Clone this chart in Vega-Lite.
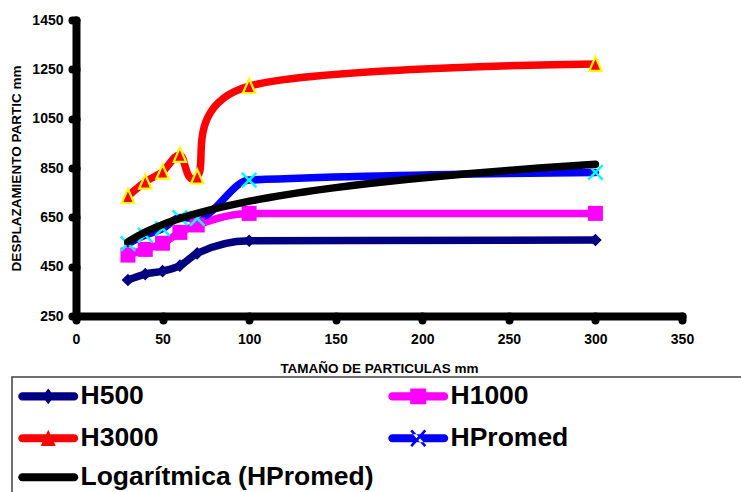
{
  "$schema": "https://vega.github.io/schema/vega-lite/v6.json",
  "width": 606,
  "height": 296,
  "autosize": {"type": "none"},
  "padding": {"left": 76, "top": 20, "right": 59, "bottom": 176},
  "background": "white",
  "config": {
    "view": {"stroke": null},
    "font": "Liberation Sans",
    "axis": {
      "domainColor": "black", "domainWidth": 8, "domainCap": "round",
      "tickColor": "black", "tickWidth": 8, "tickCap": "round", "tickSize": 4,
      "labelFont": "Liberation Sans", "labelFontSize": 14, "labelFontWeight": "bold", "labelColor": "black",
      "titleFont": "Liberation Sans", "titleFontSize": 13.5, "titleFontWeight": "bold", "titleColor": "black",
      "grid": false, "labelFlush": false, "labelOverlap": false
    }
  },
  "data": {
    "values": [
      {"series": "H500", "x": 30, "y": 396},
      {"series": "H500", "x": 40, "y": 420},
      {"series": "H500", "x": 50, "y": 432},
      {"series": "H500", "x": 60, "y": 454},
      {"series": "H500", "x": 70, "y": 504},
      {"series": "H500", "x": 100, "y": 555},
      {"series": "H500", "x": 300, "y": 558},
      {"series": "H1000", "x": 30, "y": 497},
      {"series": "H1000", "x": 40, "y": 520},
      {"series": "H1000", "x": 50, "y": 545},
      {"series": "H1000", "x": 60, "y": 589},
      {"series": "H1000", "x": 70, "y": 619},
      {"series": "H1000", "x": 100, "y": 666},
      {"series": "H1000", "x": 300, "y": 666},
      {"series": "H3000", "x": 30, "y": 736},
      {"series": "H3000", "x": 40, "y": 794},
      {"series": "H3000", "x": 50, "y": 835},
      {"series": "H3000", "x": 60, "y": 903},
      {"series": "H3000", "x": 70, "y": 815},
      {"series": "H3000", "x": 100, "y": 1182},
      {"series": "H3000", "x": 300, "y": 1272},
      {"series": "HPromed", "x": 30, "y": 543},
      {"series": "HPromed", "x": 40, "y": 578},
      {"series": "HPromed", "x": 50, "y": 604},
      {"series": "HPromed", "x": 60, "y": 649},
      {"series": "HPromed", "x": 70, "y": 646},
      {"series": "HPromed", "x": 100, "y": 801},
      {"series": "HPromed", "x": 300, "y": 832}
    ]
  },
  "encoding": {
    "x": {
      "field": "x", "type": "quantitative",
      "scale": {"domain": [0, 350], "nice": false, "zero": false},
      "axis": {
        "values": [0, 50, 100, 150, 200, 250, 300, 350],
        "format": "d",
        "title": "TAMAÑO DE PARTICULAS mm",
        "titleFont": "Liberation Sans", "titleFontSize": 13.5, "titleFontWeight": "bold", "titleColor": "black",
        "titleY": 56, "titleBaseline": "alphabetic",
        "labelFont": "Liberation Sans", "labelFontSize": 14, "labelFontWeight": "bold", "labelColor": "black",
        "labelPadding": 12, "labelFlush": false, "labelOverlap": false,
        "tickSize": 4, "tickWidth": 8, "tickCap": "round", "tickColor": "black",
        "domainColor": "black", "domainWidth": 8, "domainCap": "round", "grid": false,
        "encode": {
          "domain": {"update": {"strokeWidth": {"value": 8}, "strokeCap": {"value": "round"}, "stroke": {"value": "#000000"}}},
          "ticks": {"update": {"strokeWidth": {"value": 8}, "strokeCap": {"value": "round"}, "stroke": {"value": "#000000"}}}
        }
      }
    },
    "y": {
      "field": "y", "type": "quantitative",
      "scale": {"domain": [250, 1450], "nice": false, "zero": false},
      "axis": {
        "values": [250, 450, 650, 850, 1050, 1250, 1450],
        "format": "d",
        "title": "DESPLAZAMIENTO PARTIC mm",
        "titleFont": "Liberation Sans", "titleFontSize": 13.5, "titleFontWeight": "bold", "titleColor": "black",
        "titleX": -56, "titleBaseline": "alphabetic",
        "labelFont": "Liberation Sans", "labelFontSize": 14, "labelFontWeight": "bold", "labelColor": "black",
        "labelPadding": 9, "labelFlush": false, "labelOverlap": false,
        "tickSize": 4, "tickWidth": 8, "tickCap": "round", "tickColor": "black",
        "domainColor": "black", "domainWidth": 8, "domainCap": "round", "grid": false,
        "encode": {
          "domain": {"update": {"strokeWidth": {"value": 8}, "strokeCap": {"value": "round"}, "stroke": {"value": "#000000"}}},
          "ticks": {"update": {"strokeWidth": {"value": 8}, "strokeCap": {"value": "round"}, "stroke": {"value": "#000000"}}}
        }
      }
    }
  },
  "layer": [
    {
      "transform": [{"filter": {"field": "series", "oneOf": ["H500", "H1000", "HPromed"]}}],
      "mark": {"type": "line", "interpolate": "monotone", "strokeWidth": 7.5, "strokeCap": "round", "strokeJoin": "round"},
      "encoding": {
        "color": {
          "field": "series", "type": "nominal",
          "scale": {"domain": ["H500", "H1000", "H3000", "HPromed"], "range": ["#000080", "#FF00FF", "#FF0000", "#0000FF"]},
          "legend": {
            "orient": "none", "legendX": -64, "legendY": 357,
            "direction": "horizontal", "columns": 2, "columnPadding": 229, "rowPadding": 15,
            "title": null, "padding": 6,
            "labelFont": "Liberation Sans", "labelFontSize": 26.5, "labelFontWeight": "bold", "labelColor": "black",
            "labelOffset": 36, "labelLimit": 500,
            "symbolSize": 676, "symbolStrokeWidth": 0,
            "strokeColor": "#404040",
            "encode": {
              "legend": {"update": {"strokeWidth": {"value": 1.5}}},
              "symbols": {
                "update": {
                  "shape": {"signal": "datum.value === 'H500' ? 'M-0.692,-0.308L3.308,-0.308A0.308,0.308,0,0,1,3.308,0.308L-0.692,0.308A0.308,0.308,0,0,1,-0.692,-0.308ZM1.308,-0.615L1.769,0L1.308,0.615L0.846,0Z' : datum.value === 'H1000' ? 'M-0.692,-0.308L3.308,-0.308A0.308,0.308,0,0,1,3.308,0.308L-0.692,0.308A0.308,0.308,0,0,1,-0.692,-0.308ZM0.692,-0.615L1.923,-0.615L1.923,0.615L0.692,0.615Z' : datum.value === 'H3000' ? 'M-0.692,-0.308L3.308,-0.308A0.308,0.308,0,0,1,3.308,0.308L-0.692,0.308A0.308,0.308,0,0,1,-0.692,-0.308ZM1.308,-0.65L1.885,0.6L0.731,0.6ZM0,7' : 'M-0.692,-0.308L3.308,-0.308A0.308,0.308,0,0,1,3.308,0.308L-0.692,0.308A0.308,0.308,0,0,1,-0.692,-0.308ZM0.694,-0.533L1.774,0.667L1.922,0.533L0.842,-0.667ZM1.922,-0.533L0.842,0.667L0.694,0.533L1.774,-0.667ZM30,7'"},
                  "fill": {"signal": "datum.value === 'H500' ? '#000080' : datum.value === 'H1000' ? '#FF00FF' : datum.value === 'H3000' ? '#FF0000' : '#0000FF'"},
                  "stroke": {"value": "transparent"},
                  "opacity": {"value": 1},
                  "fillOpacity": {"value": 1}
                }
              }
            }
          }
        }
      }
    },
    {
      "transform": [{"filter": {"field": "series", "equal": "H3000"}}],
      "mark": {"type": "line", "interpolate": "cardinal", "tension": 0, "color": "#FF0000", "strokeWidth": 7.5, "strokeCap": "round", "strokeJoin": "round"}
    },
    {
      "transform": [{"filter": {"field": "series", "equal": "H500"}}],
      "mark": {"type": "point", "shape": "diamond", "filled": true, "color": "#000080", "size": 160, "opacity": 1}
    },
    {
      "transform": [{"filter": {"field": "series", "equal": "H1000"}}],
      "mark": {"type": "point", "shape": "square", "filled": true, "color": "#FF00FF", "size": 225, "opacity": 1}
    },
    {
      "transform": [{"filter": {"field": "series", "equal": "H3000"}}],
      "mark": {"type": "point", "shape": "M0,-1L0.85,0.95L-0.85,0.95Z", "filled": true, "fill": "#FF0000", "stroke": "#FFFF00", "strokeWidth": 2.2, "size": 210, "opacity": 1}
    },
    {
      "transform": [{"filter": {"field": "series", "equal": "HPromed"}}],
      "mark": {"type": "point", "shape": "M-1,-1L1,1M-1,1L1,-1", "filled": false, "stroke": "#00FFFF", "strokeWidth": 2.5, "size": 210, "opacity": 1}
    },
    {
      "transform": [
        {"filter": {"field": "series", "equal": "HPromed"}},
        {"regression": "y", "on": "x", "method": "log"}
      ],
      "mark": {"type": "line", "strokeWidth": 7.5, "strokeCap": "round"},
      "encoding": {
        "color": {
          "datum": "Logarítmica (HPromed)", "type": "nominal",
          "scale": {"range": ["#000000"]},
          "legend": {
            "orient": "none", "legendX": -58, "legendY": 444,
            "title": null, "padding": 0,
            "labelFont": "Liberation Sans", "labelFontSize": 26.5, "labelFontWeight": "bold", "labelColor": "black",
            "labelOffset": 36, "labelLimit": 500,
            "symbolSize": 676, "symbolStrokeWidth": 0,
            "encode": {
              "symbols": {
                "update": {
                  "shape": {"value": "M-0.692,-0.308L3.308,-0.308A0.308,0.308,0,0,1,3.308,0.308L-0.692,0.308A0.308,0.308,0,0,1,-0.692,-0.308Z"},
                  "fill": {"value": "#000000"},
                  "stroke": {"value": "transparent"},
                  "opacity": {"value": 1},
                  "fillOpacity": {"value": 1}
                }
              }
            }
          }
        }
      }
    }
  ],
  "resolve": {"scale": {"color": "independent"}}
}
